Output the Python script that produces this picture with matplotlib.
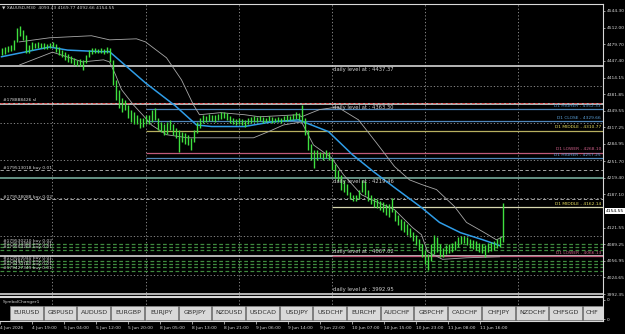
import numpy as np
import matplotlib
matplotlib.use("Agg")
import matplotlib.pyplot as plt
from matplotlib.patches import Rectangle
import matplotlib.transforms as mtransforms

# ── data (XAUUSD M30, one entry per bar) ─────────────────────────────────────
bar_high = [4472, 4474, 4476, 4478, 4488, 4511, 4515, 4507, 4498, 4478,
            4484, 4482, 4484, 4482, 4482, 4480, 4482, 4484, 4480, 4474,
            4468, 4465, 4461, 4457, 4453, 4449, 4451, 4449, 4459, 4468,
            4472, 4472, 4470, 4472, 4470, 4474, 4472, 4449, 4410, 4391,
            4375, 4371, 4361, 4352, 4348, 4342, 4336, 4336, 4342, 4342,
            4352, 4356, 4336, 4328, 4323, 4328, 4332, 4324, 4317, 4313,
            4309, 4307, 4303, 4297, 4313, 4328, 4336, 4342, 4340, 4344,
            4342, 4342, 4344, 4348, 4348, 4346, 4340, 4336, 4334, 4336,
            4334, 4332, 4336, 4338, 4340, 4338, 4340, 4338, 4336, 4340,
            4338, 4336, 4338, 4336, 4340, 4342, 4340, 4344, 4348, 4346,
            4361, 4336, 4313, 4284, 4274, 4274, 4270, 4268, 4274, 4270,
            4258, 4245, 4235, 4225, 4215, 4206, 4192, 4186, 4186, 4196,
            4215, 4212, 4196, 4186, 4180, 4177, 4173, 4171, 4167, 4167,
            4180, 4157, 4147, 4138, 4134, 4128, 4122, 4114, 4108, 4099,
            4089, 4079, 4070, 4089, 4108, 4103, 4089, 4083, 4087, 4089,
            4091, 4095, 4103, 4106, 4105, 4103, 4099, 4097, 4095, 4091,
            4089, 4087, 4091, 4093, 4095, 4099, 4103, 4170]
bar_low = [4459, 4461, 4465, 4466, 4468, 4484, 4496, 4488, 4463, 4463,
           4468, 4472, 4472, 4472, 4470, 4470, 4472, 4474, 4465, 4459,
           4455, 4449, 4445, 4443, 4439, 4437, 4437, 4430, 4443, 4455,
           4461, 4463, 4463, 4463, 4461, 4463, 4445, 4400, 4371, 4356,
           4348, 4352, 4336, 4328, 4323, 4323, 4317, 4319, 4323, 4324,
           4328, 4332, 4313, 4309, 4303, 4305, 4313, 4303, 4297, 4270,
           4289, 4284, 4282, 4274, 4289, 4307, 4317, 4326, 4328, 4330,
           4330, 4328, 4332, 4334, 4336, 4332, 4326, 4323, 4321, 4324,
           4321, 4319, 4323, 4326, 4328, 4328, 4330, 4326, 4328, 4330,
           4326, 4328, 4328, 4326, 4330, 4330, 4332, 4332, 4334, 4332,
           4328, 4303, 4274, 4254, 4239, 4254, 4258, 4254, 4258, 4254,
           4235, 4219, 4212, 4196, 4192, 4186, 4177, 4173, 4173, 4177,
           4192, 4186, 4173, 4167, 4163, 4161, 4157, 4153, 4147, 4142,
           4153, 4134, 4126, 4118, 4114, 4108, 4103, 4095, 4087, 4079,
           4064, 4050, 4040, 4056, 4070, 4075, 4064, 4064, 4071, 4073,
           4075, 4079, 4085, 4089, 4091, 4087, 4083, 4081, 4079, 4075,
           4073, 4064, 4075, 4077, 4079, 4083, 4085, 4093]

# moving average and bands (bar index, price)
ma_idx = [0, 16, 22, 33, 36, 48, 58, 65, 70, 81, 90, 99, 109, 117, 124, 131,
          140, 146, 153, 160, 166]
ma_val = [4455, 4474, 4468, 4465, 4465, 4404, 4359, 4322, 4319, 4319, 4328,
          4332, 4309, 4264, 4231, 4200, 4161, 4132, 4112, 4099, 4087]
up_idx = [6, 16, 30, 36, 45, 48, 55, 60, 64, 66, 73, 81, 86, 99, 100, 106,
          112, 119, 125, 131, 136, 140, 145, 151, 155, 161, 165, 167]
up_val = [4484, 4492, 4496, 4488, 4490, 4484, 4453, 4410, 4361, 4342, 4346,
          4342, 4338, 4342, 4338, 4352, 4357, 4332, 4287, 4241, 4215, 4206,
          4196, 4163, 4132, 4112, 4098, 4104]
lo_idx = [6, 17, 27, 34, 36, 38, 40, 44, 47, 50, 55, 62, 84, 89, 94, 100,
          104, 110, 114, 120, 125, 131, 137, 140, 142, 147, 155, 166]
lo_val = [4439, 4464, 4445, 4449, 4445, 4420, 4391, 4361, 4342, 4322, 4303,
          4297, 4297, 4309, 4322, 4328, 4283, 4258, 4225, 4186, 4172, 4157,
          4122, 4108, 4075, 4060, 4063, 4065]

# daily levels
daily_levels = [4437.37, 4363.30, 4219.46, 4067.02, 3992.95]

# D1 levels
d1_names = ["D1 HIGHER", "D1 CLOSE", "D1 MIDDLE", "D1 LOWER", "D1 HIGHER",
            "D1 MIDDLE", "D1 LOWER"]
d1_prices = [4352.33, 4329.66, 4310.77, 4268.10, 4257.25, 4162.14, 4066.13]
d1_colors = ["#4f86b8", "#4f86b8", "#b8b060", "#c05a7a", "#4f86b8",
             "#d8d8b0", "#c05a7a"]
d1_text_colors = ["#5aa0d8", "#5aa0d8", "#e8e060", "#d0608a", "#5aa0d8",
                  "#e8e060", "#d0608a"]
d1_start = [48, 48, 48, 48, 48, 110, 110]

# orders
order_names = ["#178888426 sl", "#179513018 buy 0.01", "#179538088 buy 0.02",
               "#179530210 buy 0.02", "#179534488 buy 0.01", "#179503268 buy 0.01",
               "#179503040 buy 0.01", "#179481520 buy 0.01", "#179470180 buy 0.01",
               "#179427349 buy 0.01"]
order_prices = [4365.0, 4233.3, 4176.9, 4089.5, 4083.7, 4078.5, 4056.5,
                4050.6, 4044.8, 4037.0]

price_ticks = [4544.30, 4512.00, 4479.70, 4447.40, 4414.15, 4381.85, 4349.55,
               4317.25, 4284.95, 4251.70, 4219.40, 4187.10, 4121.55, 4089.25,
               4056.95, 4024.65, 3992.35]
last_price = 4154.55

time_labels = ["4 Jun 2026", "4 Jun 19:00", "5 Jun 04:00", "5 Jun 12:00",
               "5 Jun 20:00", "8 Jun 05:00", "8 Jun 13:00", "8 Jun 21:00",
               "9 Jun 06:00", "9 Jun 14:00", "9 Jun 22:00", "10 Jun 07:00",
               "10 Jun 15:00", "10 Jun 23:00", "11 Jun 08:00", "11 Jun 16:00"]

symbols = ["EURUSD", "GBPUSD", "AUDUSD", "EURGBP", "EURJPY", "GBPJPY",
           "NZDUSD", "USDCAD", "USDJPY", "USDCHF", "EURCHF", "AUDCHF",
           "GBPCHF", "CADCHF", "CHFJPY", "NZDCHF", "CHFSGD", "CHF"]

# ── figure ───────────────────────────────────────────────────────────────────
W, H = 625, 334
fig = plt.figure(figsize=(W / 100, H / 100), dpi=100, facecolor="black")
ax = fig.add_axes([0, 1 - 296 / H, 603 / W, 292 / H], facecolor="black")
sub = fig.add_axes([0, 1 - 321 / H, 603 / W, 24 / H], facecolor="black",
                   sharex=ax)

fs = 3.2
txtc = "#d0d0d0"
x = np.arange(len(bar_high))
ax.set_xlim(-0.5, 200.5)
ax.set_ylim(3988.5, 4557.9)

# grid
for g in [16.8, 48.2, 79.2, 110.2, 141.2, 172.2]:
    ax.axvline(g, color="#9a9a9a", lw=0.6, ls=(0, (1.5, 2.5)), zorder=1)
    sub.axvline(g, color="#9a9a9a", lw=0.6, ls=(0, (1.5, 2.5)), zorder=1)
for g in [4398.5, 4326.6, 4252.8, 4178.9, 4105.1, 4029.3]:
    ax.axhline(g, color="#9a9a9a", lw=0.6, ls=(0, (1.5, 2.5)), zorder=1)

# daily levels
for i, lv in enumerate(daily_levels):
    ax.axhline(lv, color="#7fb8a8" if i == 2 else "#e6e6e6",
               lw=1.1, zorder=2)
    below = i < 3
    ax.annotate(f"daily level at : {lv:.2f}", (110.5, lv),
                xytext=(0, -1.2 if below else 1.2), textcoords="offset points",
                va="top" if below else "bottom", ha="left",
                color=txtc, fontsize=fs + 0.6, zorder=6)

# D1 levels
for name, p, c, tc, s in zip(d1_names, d1_prices, d1_colors, d1_text_colors,
                             d1_start):
    ax.hlines(p, s, 200.5, color=c, lw=0.9, zorder=2)
    ax.annotate(f"{name} - {p:.2f}", (199.8, p), xytext=(0, 1),
                textcoords="offset points", ha="right", va="bottom",
                color=tc, fontsize=fs, zorder=6)

# order lines
for k, (name, p) in enumerate(zip(order_names, order_prices)):
    if k == 0:
        ax.axhline(p, color="#e05050", lw=0.7, ls=(0, (3, 2)), zorder=3)
    elif k < 3:
        ax.axhline(p, color="#bdbdbd", lw=0.6, ls=(0, (4, 3)), zorder=3)
    else:
        ax.axhline(p, color="#3f8a3f", lw=0.9, ls=(0, (3, 2)), zorder=3)
    ax.annotate(name, (0.5, p), xytext=(0, 0.6), textcoords="offset points",
                ha="left", va="bottom", color="#d8d8d8", fontsize=fs, zorder=6)

# bands and moving average
ax.plot(up_idx, up_val, color="#a8a8a8", lw=0.6, zorder=4)
ax.plot(lo_idx, lo_val, color="#a8a8a8", lw=0.6, zorder=4)
ax.plot(ma_idx, ma_val, color="#2f9de8", lw=1.1, zorder=4)

# price bars
ax.vlines(x, bar_low, bar_high, color="#3fe03f", lw=1.0, zorder=5)

# right price axis
ax.yaxis.tick_right()
ax.set_yticks(price_ticks)
ax.set_yticklabels([f"{p:.2f}" for p in price_ticks])
ax.tick_params(axis="y", colors="#d8d8d8", labelsize=fs, length=1.5,
               width=0.5, pad=1)
ax.tick_params(axis="x", bottom=False, labelbottom=False)
trans = mtransforms.blended_transform_factory(ax.transAxes, ax.transData)
ax.text(1.004, last_price, f"{last_price:.2f}", transform=trans, ha="left",
        va="center", fontsize=fs, color="black",
        bbox=dict(boxstyle="square,pad=0.2", fc="white", ec="none"),
        clip_on=False)

for sp in ax.spines.values():
    sp.set_color("#d8d8d8")
    sp.set_linewidth(0.8)
ax.spines["left"].set_visible(False)

ax.text(0.004, 0.995, "\u25bc XAUUSD,M30  4093.43 4169.77 4092.66 4154.55",
        transform=ax.transAxes, ha="left", va="top", color=txtc,
        fontsize=fs, zorder=7)

# sub window with symbol buttons
sub.set_ylim(0, 1)
sub.yaxis.tick_right()
sub.set_yticks([0.08, 0.88])
sub.set_yticklabels(["0", "0"])
sub.tick_params(axis="y", colors="#d8d8d8", labelsize=fs, length=1.5,
                width=0.5, pad=1)
tick_pos = np.arange(len(time_labels)) * 32 / 3 - 0.5
sub.set_xticks(tick_pos)
sub.set_xticklabels(time_labels, ha="left")
sub.tick_params(axis="x", colors="#d8d8d8", labelsize=fs, length=2,
                width=0.5, pad=1.5)
for sp in sub.spines.values():
    sp.set_color("#d8d8d8")
    sp.set_linewidth(0.8)
sub.spines["left"].set_visible(False)
sub.text(3 / 603, 0.78, "SymbolChanger1", transform=sub.transAxes,
         ha="left", va="center", color=txtc, fontsize=fs)
bw = 33.7 / 603
for i, s in enumerate(symbols):
    x0 = 10 / 603 + i * bw
    sub.add_patch(Rectangle((x0, 0.06), bw - 1 / 603, 0.58,
                            transform=sub.transAxes, fc="#d9d9d9",
                            ec="#8a8a8a", lw=0.5, zorder=3))
    last = i == len(symbols) - 1
    sub.text(x0 + 3 / 603 if last else x0 + bw / 2, 0.35, s,
             transform=sub.transAxes, ha="left" if last else "center",
             va="center", color="#303030", fontsize=4.6, zorder=4)

fig.savefig("out.png", dpi=100, facecolor="black")
